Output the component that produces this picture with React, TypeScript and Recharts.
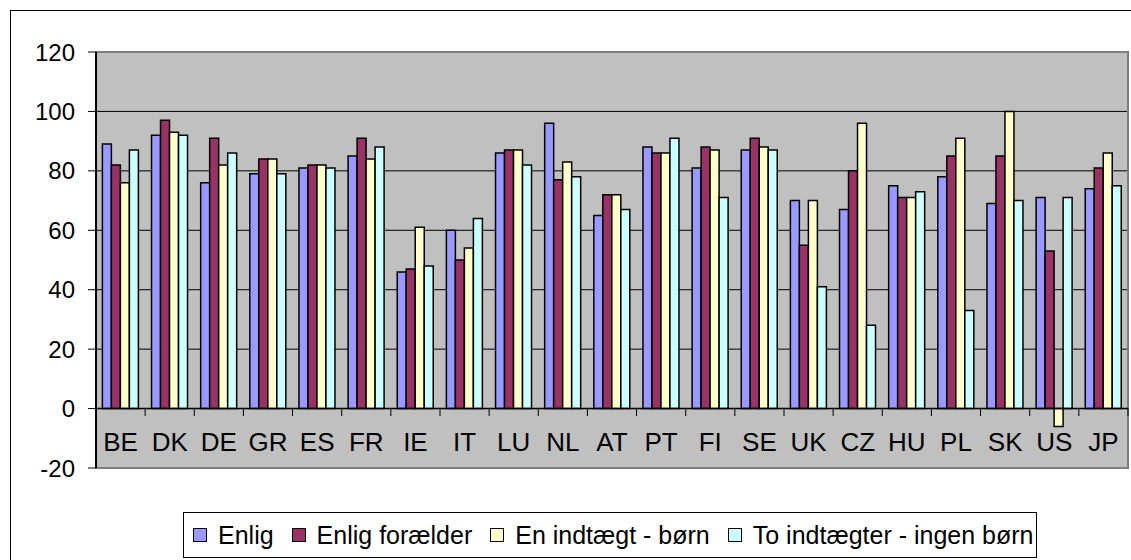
import { Bar, BarChart, CartesianGrid, ReferenceArea, ReferenceLine, XAxis, YAxis } from "recharts";

const countries = ["BE", "DK", "DE", "GR", "ES", "FR", "IE", "IT", "LU", "NL", "AT", "PT", "FI", "SE", "UK", "CZ", "HU", "PL", "SK", "US", "JP"];
const enlig = [89, 92, 76, 79, 81, 85, 46, 60, 86, 96, 65, 88, 81, 87, 70, 67, 75, 78, 69, 71, 74];
const enligForaelder = [82, 97, 91, 84, 82, 91, 47, 50, 87, 77, 72, 86, 88, 91, 55, 80, 71, 85, 85, 53, 81];
const enIndtaegt = [76, 93, 82, 84, 82, 84, 61, 54, 87, 83, 72, 86, 87, 88, 70, 96, 71, 91, 100, -6, 86];
const toIndtaegter = [87, 92, 86, 79, 81, 88, 48, 64, 82, 78, 67, 91, 71, 87, 41, 28, 73, 33, 70, 71, 75];
const yTicks = [-20, 0, 20, 40, 60, 80, 100, 120];

const series = [
  { key: "enlig", name: "Enlig", color: "#9999FF" },
  { key: "enligForaelder", name: "Enlig forælder", color: "#993366" },
  { key: "enIndtaegt", name: "En indtægt - børn", color: "#FFFFCC" },
  { key: "toIndtaegter", name: "To indtægter - ingen børn", color: "#CCFFFF" },
];

const data = countries.map((c, i) => ({
  c,
  enlig: enlig[i],
  enligForaelder: enligForaelder[i],
  enIndtaegt: enIndtaegt[i],
  toIndtaegter: toIndtaegter[i],
}));

const FONT = "'Liberation Sans', Arial, sans-serif";

function CountryTick(props: any) {
  const { x, y, payload, index } = props;
  const half = payload?.offset ?? 24.57;
  const last = index === countries.length - 1;
  return (
    <g>
      {index > 0 && <line x1={x - half} x2={x - half} y1={y - 60} y2={y - 52} stroke="#000" strokeWidth={1} />}
      {last && <line x1={x + half} x2={x + half} y1={y - 60} y2={y - 52} stroke="#000" strokeWidth={1} />}
      <text x={x} y={y - 26} textAnchor="middle" dominantBaseline="central" fontSize={26} fontFamily={FONT} fill="#000">
        {payload.value}
      </text>
    </g>
  );
}

export default function App() {
  return (
    <div style={{ position: "absolute", left: 0, top: 0, width: 1131, height: 560, overflow: "hidden", background: "#fff" }}>
      <div style={{ position: "absolute", left: 10, top: 10, width: 1140, height: 600, border: "1px solid #000" }} />
      <div style={{ position: "absolute", left: 0, top: 0 }}>
        <BarChart
          width={1131}
          height={560}
          data={data}
          margin={{ top: 52, right: 3, left: 0, bottom: 62 }}
          barCategoryGap="13%"
          barGap={0}
        >
          <CartesianGrid vertical={false} stroke="#000" strokeOpacity={1} fill="#C0C0C0" fillOpacity={1} />
          <ReferenceArea y1={-20} y2={120} fill="none" stroke="#808080" strokeWidth={2} />
          <XAxis dataKey="c" height={30} axisLine={false} tickLine={false} tickSize={0} tickMargin={0} interval={0} tick={<CountryTick />} />
          <YAxis
            width={96}
            domain={[-20, 120]}
            ticks={yTicks}
            interval={0}
            axisLine={{ stroke: "#000", strokeWidth: 2 }}
            tickLine={{ stroke: "#000" }}
            tickSize={8}
            tickMargin={13}
            tick={{ fontSize: 24, fontFamily: FONT, fill: "#000" }}
          />
          <ReferenceLine y={0} stroke="#000" strokeWidth={1.5} />
          {series.map((s) => (
            <Bar key={s.key} dataKey={s.key} name={s.name} fill={s.color} stroke="#000" strokeWidth={1.5} isAnimationActive={false} />
          ))}
        </BarChart>
      </div>
      <div
        style={{
          position: "absolute",
          left: 183,
          top: 512,
          width: 854,
          height: 46,
          border: "1px solid #000",
          background: "#fff",
          boxSizing: "border-box",
          display: "flex",
          alignItems: "center",
          paddingLeft: 9,
          fontFamily: FONT,
          fontSize: 25,
          color: "#000",
          whiteSpace: "nowrap",
        }}
      >
        {series.map((s) => (
          <div key={s.key} style={{ display: "flex", alignItems: "center", marginRight: 18 }}>
            <span style={{ display: "inline-block", width: 12, height: 12, background: s.color, border: "1px solid #000", marginRight: 11 }} />
            <span>{s.name}</span>
          </div>
        ))}
      </div>
    </div>
  );
}
